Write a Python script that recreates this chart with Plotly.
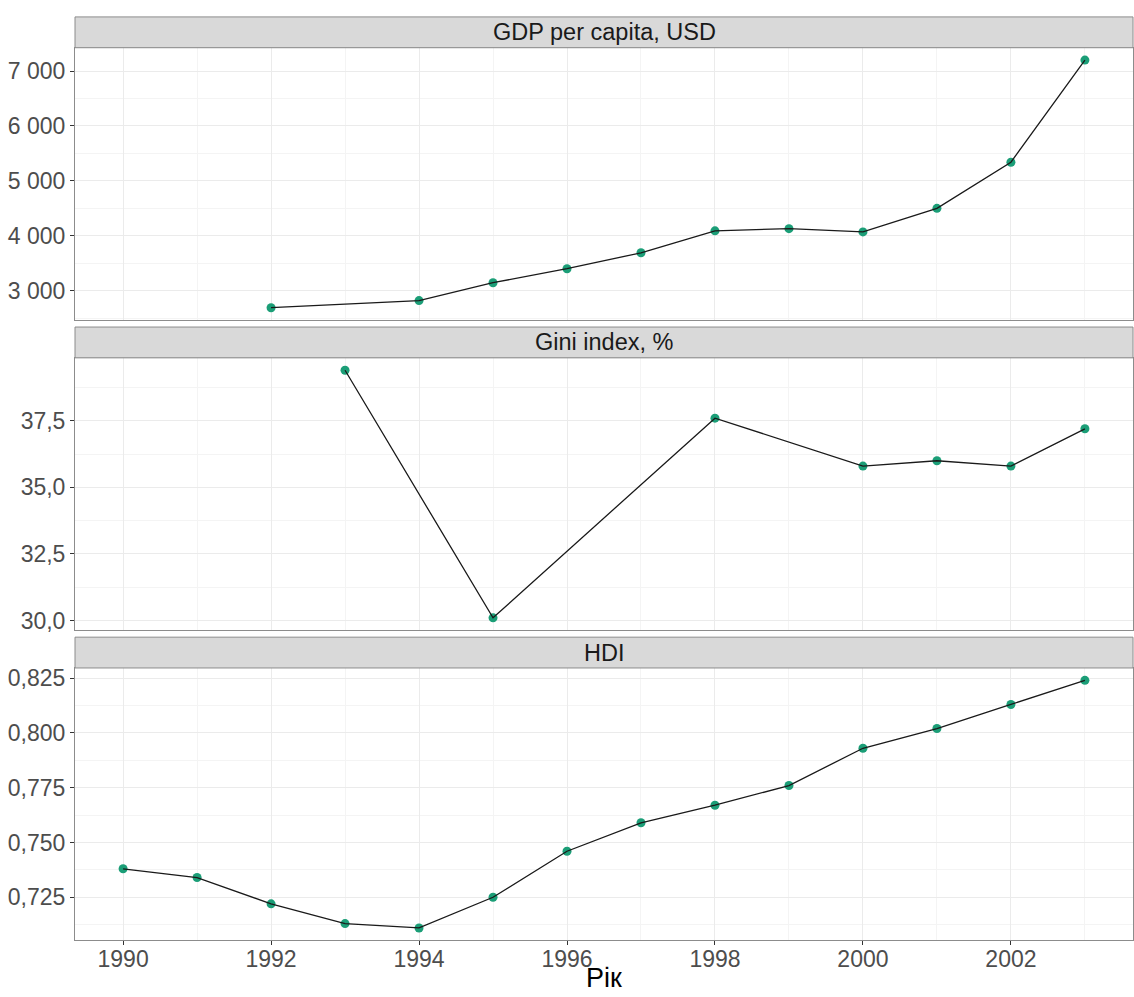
import plotly.graph_objects as go

# ---- data ----
years_gdp = [1992, 1994, 1995, 1996, 1997, 1998, 1999, 2000, 2001, 2002, 2003]
gdp = [2690, 2820, 3145, 3400, 3690, 4090, 4130, 4070, 4500, 5340, 7200]

years_gini = [1993, 1995, 1998, 2000, 2001, 2002, 2003]
gini = [39.4, 30.1, 37.6, 35.8, 36.0, 35.8, 37.2]

years_hdi = [1990, 1991, 1992, 1993, 1994, 1995, 1996, 1997, 1998, 1999, 2000, 2001, 2002, 2003]
hdi = [0.738, 0.734, 0.722, 0.713, 0.711, 0.725, 0.746, 0.759, 0.767, 0.776, 0.793, 0.802, 0.813, 0.824]

panel_titles = ["GDP per capita, USD", "Gini index, %", "HDI"]
x_title = "Рік"

# ---- layout geometry (pixels) ----
W, H = 1134, 997
FONT = "Liberation Sans, Arial, sans-serif"
x_left, x_right = 75, 1133
panels = [(45, 319), (357, 631), (669, 943)]      # panel top/bottom
strips = [(14, 45), (326, 357), (638, 669)]        # strip top/bottom

def py(p):
    return 1 - p / H

def expand(vals, f=0.05):
    lo, hi = min(vals), max(vals)
    d = (hi - lo) * f
    return [lo - d, hi + d]

all_years = years_gdp + years_gini + years_hdi
xr = expand(all_years)

green = "#1B9E77"
fig = go.Figure()
series = [(years_gdp, gdp), (years_gini, gini), (years_hdi, hdi)]
for i, (xs, ys) in enumerate(series):
    xa = "x" if i == 0 else f"x{i+1}"
    ya = "y" if i == 0 else f"y{i+1}"
    fig.add_trace(go.Scatter(x=xs, y=ys, mode="markers", xaxis=xa, yaxis=ya,
                             marker=dict(color=green, size=9), showlegend=False,
                             hoverinfo="x+y"))
    fig.add_trace(go.Scatter(x=xs, y=ys, mode="lines", xaxis=xa, yaxis=ya,
                             line=dict(color="#1a1a1a", width=1.3), showlegend=False,
                             hoverinfo="skip"))

grid_major = "#EBEBEB"
grid_minor = "#F4F4F4"
border = "#8c8c8c"
tickfont = dict(family=FONT, size=23, color="#4D4D4D")

layout = dict(
    width=W, height=H,
    margin=dict(l=0, r=0, t=0, b=0),
    paper_bgcolor="white", plot_bgcolor="white",
    separators=", ",
    font=dict(family=FONT),
)

ycfg = [
    dict(range=expand(gdp), dtick=1000, tickformat=",d", minor_dtick=500),
    dict(range=expand(gini), dtick=2.5, tickformat=".1f", minor_dtick=1.25),
    dict(range=expand(hdi), dtick=0.025, tickformat=".3f", minor_dtick=0.0125),
]

for i in range(3):
    suffix = "" if i == 0 else str(i + 1)
    top, bot = panels[i]
    cfg = ycfg[i]
    xa = dict(
        domain=[x_left / W, x_right / W],
        range=xr, tick0=1990, dtick=2, tickmode="linear",
        anchor="y" + suffix,
        showgrid=True, gridcolor=grid_major, gridwidth=1,
        minor=dict(dtick=1, tick0=1990, showgrid=True, gridcolor=grid_minor, gridwidth=0.8, ticks=""),
        showline=True, linecolor=border, linewidth=1, mirror=True,
        zeroline=False,
        ticks="outside" if i == 2 else "", ticklen=4, tickcolor="#333333",
        showticklabels=(i == 2), tickfont=tickfont,
        ticklabelstandoff=-6 if i == 2 else 0,
    )
    if i > 0:
        xa["matches"] = "x"
    layout["xaxis" + suffix] = xa
    layout["yaxis" + suffix] = dict(
        domain=[py(bot), py(top)],
        range=cfg["range"], tick0=0, dtick=cfg["dtick"], tickmode="linear",
        tickformat=cfg["tickformat"],
        anchor="x" + suffix,
        showgrid=True, gridcolor=grid_major, gridwidth=1,
        minor=dict(dtick=cfg["minor_dtick"], showgrid=True, gridcolor=grid_minor, gridwidth=0.8, ticks=""),
        showline=True, linecolor=border, linewidth=1, mirror=True,
        zeroline=False,
        ticks="outside", ticklen=4, tickcolor="#333333",
        tickfont=tickfont,
    )

fig.update_layout(**layout)

shapes = []
annotations = []
for i, (t, b) in enumerate(strips):
    shapes.append(dict(type="rect", xref="paper", yref="paper",
                       x0=x_left / W, x1=x_right / W, y0=py(b), y1=py(t),
                       fillcolor="#D9D9D9", line=dict(color=border, width=1), layer="above"))
    annotations.append(dict(text=panel_titles[i], xref="paper", yref="paper",
                            x=(x_left + x_right) / 2 / W, y=py((t + b) / 2),
                            xanchor="center", yanchor="middle", showarrow=False,
                            font=dict(family=FONT, size=23.5, color="#1A1A1A")))

annotations.append(dict(text=x_title, xref="paper", yref="paper",
                        x=(x_left + x_right) / 2 / W, y=py(981),
                        xanchor="center", yanchor="middle", showarrow=False,
                        font=dict(family=FONT, size=27, color="#000000")))

fig.update_layout(shapes=shapes, annotations=annotations)
fig.write_html("out.html",
               config={"displayModeBar": False},
               post_script="document.body.style.margin='0';document.body.style.overflow='hidden';")
